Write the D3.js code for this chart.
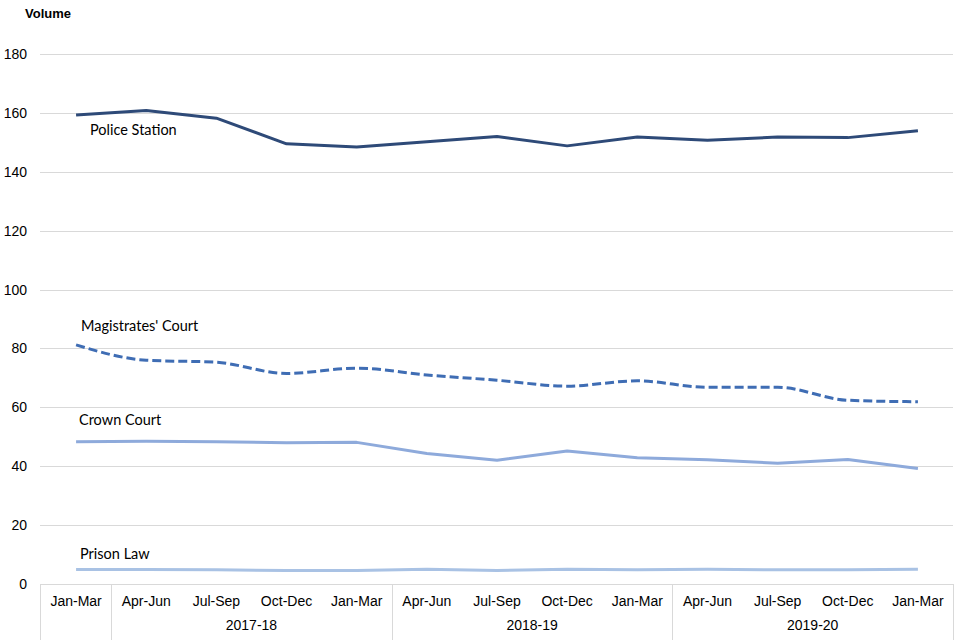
<!DOCTYPE html>
<html><head><meta charset="utf-8">
<script src="https://cdn.jsdelivr.net/npm/d3@7"></script>
<style>body{margin:0;background:#fff}svg{display:block}</style>
</head><body>
<svg id="c" width="960" height="640"></svg>
<script>
const quarters = ["Jan-Mar","Apr-Jun","Jul-Sep","Oct-Dec","Jan-Mar","Apr-Jun","Jul-Sep","Oct-Dec","Jan-Mar","Apr-Jun","Jul-Sep","Oct-Dec","Jan-Mar"];
const years = [{label:"2017-18",from:1,to:4},{label:"2018-19",from:5,to:8},{label:"2019-20",from:9,to:12}];
const policeStation = [159.3,160.8,158.2,149.5,148.4,150.2,152.0,148.8,151.8,150.7,151.8,151.6,153.9];
const magistratesCourt = [81.2,76.0,75.3,71.5,73.3,71.0,69.2,67.2,69.0,66.8,66.8,62.4,61.9];
const crownCourt = [48.3,48.5,48.3,48.0,48.1,44.3,42.0,45.2,42.9,42.2,41.0,42.3,39.2];
const prisonLaw = [4.9,4.9,4.8,4.6,4.6,5.0,4.6,5.0,4.8,5.0,4.8,4.8,5.0];
const yTicks = [0,20,40,60,80,100,120,140,160,180];

const svg = d3.select("#c");
const L = 41, R = 953, T = 54, B = 584;
const x = d3.scaleBand().domain(d3.range(quarters.length)).range([L, R]);
const y = d3.scaleLinear().domain([0,180]).range([B, T]);
const cx = i => x(i) + x.bandwidth()/2;

// grid
svg.append("g").selectAll("line").data(yTicks.filter(d=>d>0)).join("line")
  .attr("x1", L-1).attr("x2", R).attr("y1", d=>Math.round(y(d))+0.5).attr("y2", d=>Math.round(y(d))+0.5)
  .attr("stroke","#d9d9d9").attr("stroke-width",1);

// y labels
svg.append("g").selectAll("text").data(yTicks).join("text")
  .attr("x", 27).attr("y", d=>y(d)+5).attr("text-anchor","end")
  .attr("font-family","Liberation Sans, Arial, sans-serif").attr("font-size",14).attr("fill","#000")
  .text(d=>d);

svg.append("text").attr("x",25).attr("y",18).attr("font-family","Liberation Sans, Arial, sans-serif")
  .attr("font-size",13).attr("font-weight","bold").text("Volume");

// axis box
const ax = svg.append("g");
ax.append("line").attr("x1",L-1).attr("x2",R).attr("y1",B+0.5).attr("y2",B+0.5).attr("stroke","#d9d9d9");
const seps = [L-1, x(1), x(5), x(9), R];
ax.selectAll("line.sep").data(seps).join("line").attr("class","sep")
  .attr("x1",d=>Math.round(d)+0.5).attr("x2",d=>Math.round(d)+0.5).attr("y1",B).attr("y2",640)
  .attr("stroke","#d9d9d9");
ax.selectAll("text.q").data(quarters).join("text").attr("class","q")
  .attr("x",(d,i)=>cx(i)).attr("y",606).attr("text-anchor","middle")
  .attr("font-family","Liberation Sans, Arial, sans-serif").attr("font-size",14).text(d=>d);
ax.selectAll("text.yr").data(years).join("text").attr("class","yr")
  .attr("x",d=>(x(d.from)+x(d.to)+x.bandwidth())/2).attr("y",630).attr("text-anchor","middle")
  .attr("font-family","Liberation Sans, Arial, sans-serif").attr("font-size",14).text(d=>d.label);

// lines
const lineLin = d3.line().x((d,i)=>cx(i)).y(d=>y(d)).curve(d3.curveLinear);
const lineSmooth = d3.line().x((d,i)=>cx(i)).y(d=>y(d)).curve(d3.curveMonotoneX);
const series = [
  {data:prisonLaw, color:"#a9c2e4", dash:null, smooth:false, label:"Prison Law", lx:80, ly:559},
  {data:crownCourt, color:"#8eaadb", dash:null, smooth:false, label:"Crown Court", lx:79, ly:425},
  {data:magistratesCourt, color:"#3f6db4", dash:"9,4", smooth:true, label:"Magistrates' Court", lx:81, ly:331},
  {data:policeStation, color:"#2e4a78", dash:null, smooth:false, label:"Police Station", lx:90, ly:135}
];
svg.append("g").selectAll("path").data(series).join("path")
  .attr("d", d=>(d.smooth?lineSmooth:lineLin)(d.data)).attr("fill","none").attr("stroke",d=>d.color)
  .attr("stroke-width",3).attr("stroke-linejoin","round").attr("stroke-dasharray",d=>d.dash);
svg.append("g").selectAll("text").data(series).join("text")
  .attr("x",d=>d.lx).attr("y",d=>d.ly).attr("font-family","Lato, 'Noto Sans', sans-serif")
  .attr("font-size",14.5).attr("fill","#000").text(d=>d.label);
</script>
</body></html>
